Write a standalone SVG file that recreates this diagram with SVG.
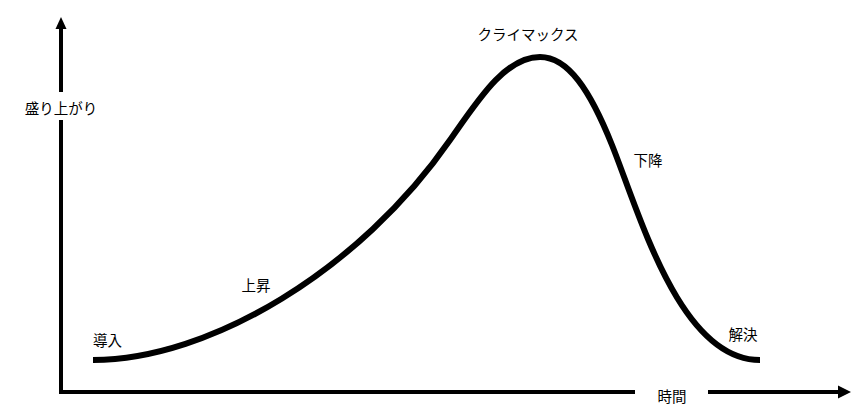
<svg xmlns="http://www.w3.org/2000/svg" width="866" height="412" viewBox="0 0 866 412">
<style>
.lbl{font-family:"Noto Sans CJK JP","Noto Sans CJK SC",sans-serif;font-size:14.5px;fill:#000;text-anchor:middle;dominant-baseline:central}
.axis{stroke:#000;stroke-width:4;fill:none}
.curve{stroke:#000;stroke-width:6;fill:none}
.head{fill:#000;stroke:none}
</style>
<rect width="866" height="412" fill="#fff"/>
<g id="connectors">
<line class="axis" x1="61" y1="394" x2="61" y2="120"/>
<line class="axis" x1="61" y1="92" x2="61" y2="27"/>
<polygon class="head" points="61,17 55.5,29 66.5,29"/>
<line class="axis" x1="59" y1="392" x2="635" y2="392"/>
<line class="axis" x1="708" y1="392" x2="840" y2="392"/>
<polygon class="head" points="851,392 838,385.5 838,398.5"/>
<path id="story-curve" class="curve" d="M93,360 C210,360 360,270 450,140 C478,100 505,57 540,57 C568,57 590,90 612,145 C640,215 680,360 760,360"/>
</g>
<g id="y-axis-label"><text class="lbl" x="61" y="107.5">盛り上がり</text></g>
<g id="x-axis-label"><text class="lbl" x="672" y="395.5">時間</text></g>
<g id="climax"><text class="lbl" x="528" y="33">クライマックス</text></g>
<g id="falling"><text class="lbl" x="648" y="159">下降</text></g>
<g id="rising"><text class="lbl" x="256" y="284">上昇</text></g>
<g id="intro"><text class="lbl" x="107.5" y="339.5">導入</text></g>
<g id="resolution"><text class="lbl" x="743" y="333.5">解決</text></g>
</svg>
